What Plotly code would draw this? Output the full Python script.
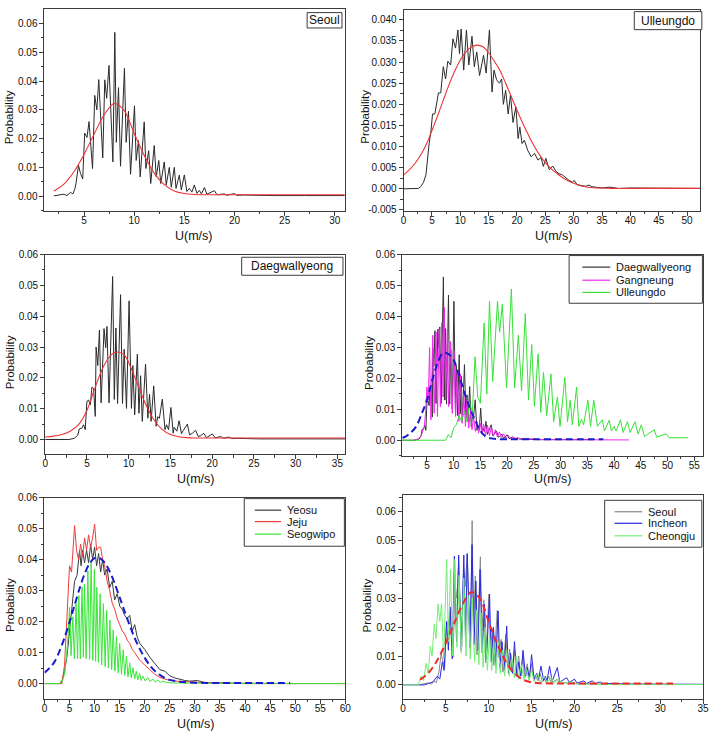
import plotly.graph_objects as go

W, H = 718, 748
FONT = "Liberation Sans, Arial, sans-serif"

# ---------------- data ----------------
# Seoul (panel 1 and panel 6)
seoul_x = [2.0, 2.5, 3.0, 3.3, 3.65, 3.9, 4.1, 4.2, 4.45, 4.65,
           4.87, 5.07, 5.3, 5.5, 5.85, 6.07, 6.28, 6.47, 6.87, 7.07,
           7.26, 7.49, 7.88, 8.07, 8.22, 8.44, 8.64, 9.03, 9.2, 9.43,
           9.64, 10.03, 10.2, 10.43, 10.6, 11.0, 11.17, 11.45, 11.65, 12.0,
           12.2, 12.45, 12.65, 13.0, 13.2, 13.5, 13.7, 14.0, 14.17, 14.5,
           14.7, 15.0, 15.25, 15.5, 15.75, 16.0, 16.25, 16.5, 16.7, 17.0,
           17.25, 18.0, 18.25, 19.0, 19.2, 20.0, 20.2, 21.0, 22.0, 24.0,
           27.0, 31.0]
seoul_y = [0.0001, 0.0003, 0.0007, 0.0002, 0.0013, 0.0008, 0.0027, 0.0044, 0.0107, 0.0079,
           0.0060, 0.0219, 0.0204, 0.0259, 0.0096, 0.0350, 0.0300, 0.0405, 0.0133, 0.0404,
           0.0340, 0.0454, 0.0119, 0.0569, 0.0187, 0.0377, 0.0104, 0.0444, 0.0187, 0.0295,
           0.0076, 0.0314, 0.0124, 0.0193, 0.0067, 0.0258, 0.0096, 0.0158, 0.0044, 0.0176,
           0.0067, 0.0124, 0.0044, 0.0119, 0.0039, 0.0100, 0.0031, 0.0100, 0.0027, 0.0073,
           0.0022, 0.0074, 0.0016, 0.0027, 0.0014, 0.0039, 0.0010, 0.0020, 0.0008, 0.0030,
           0.0007, 0.0019, 0.0005, 0.0008, 0.0003, 0.0009, 0.0003, 0.0004, 0.0003, 0.0002,
           0.0002, 0.0002]
seoul_fit_x = [2, 3, 4, 5, 6, 7, 8, 9, 10, 11, 12, 13, 14, 15, 16, 18, 20, 25, 31.5]
seoul_fit_y = [0.0018, 0.0042, 0.0085, 0.0145, 0.0215, 0.0282, 0.0322, 0.0298, 0.0218, 0.0142,
               0.0080, 0.0040, 0.0018, 0.0009, 0.0006, 0.0005, 0.0005, 0.0005, 0.0005]

# Ulleungdo (panel 2)
ull_x = [0, 1.0, 2.0, 2.6, 3.0, 3.5, 3.94, 4.23, 4.5, 4.8,
         5.1, 5.5, 5.86, 6.15, 6.55, 7.0, 7.4, 7.8, 8.3, 8.7,
         9.16, 9.57, 9.86, 10.15, 10.6, 11.08, 11.5, 12.06, 12.47, 12.9,
         13.4, 14.1, 14.56, 15.14, 15.6, 15.95, 16.4, 16.9, 17.3, 17.6,
         18.0, 18.45, 18.85, 19.3, 19.8, 20.2, 20.5, 20.9, 21.3, 21.9,
         22.5, 23.1, 23.7, 24.25, 24.65, 25.1, 25.7, 26.3, 26.9, 27.4,
         28.0, 28.6, 29.2, 29.8, 30.1, 30.6, 31.5, 32.1, 32.7, 33.2,
         33.8, 35.0, 36.4, 37.9, 40.0, 45.0, 52.3]
ull_y = [0, 0, 0, 0.0001, 0.0005, 0.0015, 0.0033, 0.0080, 0.0107, 0.0134,
         0.0177, 0.0177, 0.0204, 0.0227, 0.0227, 0.0289, 0.0260, 0.0302, 0.0293, 0.0355,
         0.0333, 0.0376, 0.0320, 0.0378, 0.0281, 0.0376, 0.0293, 0.0361, 0.0289, 0.0324,
         0.0268, 0.0316, 0.0274, 0.0376, 0.0229, 0.0281, 0.0258, 0.0250, 0.0260, 0.0200,
         0.0233, 0.0177, 0.0222, 0.0157, 0.0194, 0.0119, 0.0146, 0.0107, 0.0115, 0.0091,
         0.0076, 0.0084, 0.0068, 0.0074, 0.0053, 0.0072, 0.0045, 0.0054, 0.0041, 0.0036,
         0.0033, 0.0026, 0.0020, 0.0016, 0.0020, 0.0010, 0.0008, 0.0006, 0.0009, 0.0005,
         0.0004, 0.0002, 0.0004, 0.0001, 0.0002, 0.0001, 0.0001]
ull_fit_x = [0, 1, 2, 3, 4, 5, 6, 7, 8, 9, 10, 11, 12, 13, 14, 15, 16, 17, 18, 19,
             20, 21, 22, 23, 24, 25, 26, 27, 28, 29, 30, 31, 32, 33, 34, 35, 37, 40, 45, 52.3]
ull_fit_y = [0.0033, 0.0045, 0.0060, 0.0080, 0.0105, 0.0138, 0.0173, 0.0210, 0.0246, 0.0278,
             0.0305, 0.0324, 0.0336, 0.0340, 0.0336, 0.0322, 0.0302, 0.0280, 0.0250, 0.0218,
             0.0186, 0.0156, 0.0128, 0.0102, 0.0080, 0.0062, 0.0048, 0.0037, 0.0027, 0.0019,
             0.0013, 0.0008, 0.0005, 0.0003, 0.0002, 0.0002, 0.0001, 0.0001, 0.0001, 0.0001]

# Daegwallyeong (panels 3 and 4)
dae_x = [0, 2.84, 3.5, 3.9, 4.1, 4.4, 4.6, 4.8, 5.0, 5.2,
         5.4, 5.6, 5.8, 6.0, 6.1, 6.3, 6.5, 6.7, 7.05, 7.25,
         7.4, 7.65, 8.08, 8.28, 8.47, 8.67, 9.03, 9.26, 9.46, 9.74,
         10.05, 10.33, 10.5, 10.72, 11.04, 11.23, 11.43, 11.63, 12.02, 12.3,
         12.5, 12.69, 13.0, 13.29, 13.48, 13.68, 14.03, 14.35, 14.54, 14.78,
         15.06, 15.33, 15.45, 15.77, 16.04, 16.32, 16.55, 17.03, 17.3, 17.62,
         18.01, 18.33, 18.6, 19.0, 19.31, 20.02, 20.38, 21.0, 21.36, 22.0,
         22.35, 23.0, 24.1, 25.7, 36.0]
dae_y = [0, 0, 0.0004, 0.0014, 0.0035, 0.0037, 0.0048, 0.0032, 0.0124, 0.0128,
         0.0112, 0.0170, 0.0165, 0.0075, 0.0300, 0.0240, 0.0355, 0.0119, 0.0360, 0.0298,
         0.0367, 0.0119, 0.0529, 0.0130, 0.0362, 0.0117, 0.0470, 0.0117, 0.0293, 0.0101,
         0.0450, 0.0101, 0.0240, 0.0080, 0.0277, 0.0085, 0.0207, 0.0059, 0.0245, 0.0069,
         0.0147, 0.0059, 0.0174, 0.0043, 0.0074, 0.0069, 0.0131, 0.0032, 0.0048, 0.0032,
         0.0104, 0.0021, 0.0040, 0.0027, 0.0061, 0.0019, 0.0030, 0.0050, 0.0015, 0.0020,
         0.0030, 0.0010, 0.0012, 0.0020, 0.0006, 0.0018, 0.0005, 0.0010, 0.0004, 0.0008,
         0.0003, 0.0004, 0.0003, 0.0002, 0.0002]
dae_fit_x = [0, 1, 2, 3, 4, 5, 6, 7, 8, 8.7, 9.5, 10, 11, 12, 13, 14, 15, 16, 17, 18, 20, 25, 36]
dae_fit_y = [0.0008, 0.0011, 0.0016, 0.0027, 0.0048, 0.0094, 0.0170, 0.0238, 0.0277, 0.0284,
             0.0274, 0.0250, 0.0184, 0.0117, 0.0065, 0.0033, 0.0016, 0.0009, 0.0006, 0.0005,
             0.0005, 0.0005, 0.0005]

# Gangneung (panel 4)
gang_x = [2.35, 3.3, 3.9, 4.26, 4.5, 4.75, 5.0, 5.25, 5.5, 5.74,
          6.1, 6.35, 6.72, 6.97, 7.28, 7.52, 7.77, 8.02, 8.26, 8.5,
          8.82, 9.06, 9.43, 9.74, 10.05, 10.36, 10.67, 10.97, 11.28, 11.59,
          11.9, 12.2, 12.51, 12.82, 13.13, 13.44, 13.74, 14.05, 14.36, 14.67,
          14.98, 15.28, 15.59, 15.96, 16.33, 16.7, 17.07, 17.44, 17.8, 18.18,
          18.55, 18.92, 19.29, 19.78, 20.2, 20.7, 21.13, 21.75, 22.36, 23.3,
          24.2, 26.06, 42.8]
gang_y = [0, 0.0004, 0.0013, 0.0029, 0.0045, 0.0087, 0.0172, 0.0130, 0.0300, 0.0066,
          0.0340, 0.0087, 0.0350, 0.0077, 0.0360, 0.0109, 0.0380, 0.0140, 0.0430, 0.0130,
          0.0360, 0.0109, 0.0320, 0.0087, 0.0289, 0.0077, 0.0226, 0.0061, 0.0215, 0.0055,
          0.0151, 0.0045, 0.0130, 0.0039, 0.0098, 0.0034, 0.0077, 0.0029, 0.0061, 0.0023,
          0.0055, 0.0020, 0.0052, 0.0017, 0.0049, 0.0015, 0.0043, 0.0013, 0.0034, 0.0011,
          0.0027, 0.0009, 0.0021, 0.0006, 0.0016, 0.0005, 0.0011, 0.0004, 0.0007, 0.0003,
          0.0005, 0.0002, 0.0001]
gang_fit_x = [0.4, 1, 2, 3, 4, 5, 6, 7, 8, 9, 10, 11, 12, 13, 14, 15, 16, 17, 18, 20, 25, 30, 38]
gang_fit_y = [0.0008, 0.0012, 0.0025, 0.0045, 0.0085, 0.0130, 0.0195, 0.0250, 0.0283, 0.0280,
              0.0260, 0.0210, 0.0155, 0.0105, 0.0065, 0.0030, 0.0012, 0.0006, 0.0004, 0.0003,
              0.0003, 0.0003, 0.0003]

# Ulleungdo (panel 4, green)
ull2_x = [0.4, 8.5, 9.0, 9.5, 10.0, 10.5, 11.0, 11.5, 12.0, 12.5,
          13.0, 13.5, 14.0, 14.5, 15.0, 15.7, 16.2, 16.7, 17.3, 18.2,
          18.6, 19.1, 19.9, 20.8, 21.4, 22.1, 22.7, 23.4, 24.0, 24.6,
          25.1, 25.8, 26.3, 26.8, 27.4, 28.2, 28.7, 29.4, 29.9, 30.8,
          31.3, 31.8, 32.2, 33.0, 33.4, 33.9, 34.3, 35.1, 35.6, 36.2,
          36.9, 37.8, 38.2, 39.1, 39.5, 40.0, 40.4, 41.2, 41.7, 42.5,
          43.0, 43.9, 44.5, 45.1, 45.7, 47.5, 48.0, 49.7, 50.3, 53.8]
ull2_y = [0, 0, 0.0018, 0.0008, 0.0040, 0.0050, 0.0080, 0.0060, 0.0095, 0.0060,
          0.0120, 0.0090, 0.0270, 0.0140, 0.0120, 0.0380, 0.0150, 0.0450, 0.0190, 0.0450,
          0.0350, 0.0440, 0.0170, 0.0490, 0.0170, 0.0340, 0.0160, 0.0410, 0.0130, 0.0310,
          0.0110, 0.0280, 0.0090, 0.0220, 0.0080, 0.0215, 0.0060, 0.0140, 0.0045, 0.0204,
          0.0060, 0.0130, 0.0050, 0.0172, 0.0045, 0.0068, 0.0050, 0.0130, 0.0045, 0.0130,
          0.0045, 0.0066, 0.0030, 0.0065, 0.0030, 0.0045, 0.0030, 0.0066, 0.0025, 0.0060,
          0.0025, 0.0060, 0.0020, 0.0050, 0.0012, 0.0034, 0.0010, 0.0021, 0.0008, 0.0008]

# Yeosu / Jeju / Seogwipo (panel 5)
yeosu_x = [0, 3.0, 3.5, 4.0, 4.5, 5.0, 5.5, 6.0, 6.5, 7.0,
           7.3, 7.6, 8.0, 8.4, 8.8, 9.2, 9.6, 10.0, 10.4, 10.8,
           11.2, 11.6, 12.0, 12.5, 13.0, 13.5, 14.0, 14.5, 15.0, 15.5,
           16.0, 16.5, 17.0, 17.5, 18.0, 18.5, 19.0, 20.0, 21.0, 22.0,
           23.0, 24.0, 25.0, 26.0, 27.0, 28.0, 29.0, 30.0, 30.5, 32.0,
           35.0, 40.0, 50.0]
yeosu_y = [0, 0, 0.001, 0.004, 0.009, 0.017, 0.025, 0.033, 0.035, 0.043,
           0.038, 0.043, 0.039, 0.043, 0.039, 0.045, 0.040, 0.044, 0.038, 0.042,
           0.036, 0.040, 0.035, 0.037, 0.031, 0.033, 0.027, 0.029, 0.025, 0.024,
           0.022, 0.021, 0.022, 0.017, 0.019, 0.015, 0.013, 0.011, 0.0085, 0.0065,
           0.0045, 0.0040, 0.0025, 0.0018, 0.0013, 0.0010, 0.0008, 0.0008, 0.0010, 0.0003,
           0.0002, 0.0001, 0]
jeju_x = [0, 3.5, 4.0, 4.5, 5.0, 5.4, 6.0, 6.4, 6.8, 7.2,
          7.6, 8.0, 8.4, 8.8, 9.2, 9.6, 10.0, 10.4, 10.8, 11.2,
          11.6, 12.0, 12.5, 13.0, 13.5, 14.0, 14.5, 15.0, 15.5, 16.0,
          16.5, 17.0, 17.5, 18.0, 18.5, 19.0, 20.0, 21.0, 22.0, 23.0,
          24.0, 25.0, 27.0, 30.0, 35.0, 40.0, 60.0]
jeju_y = [0, 0, 0.006, 0.020, 0.038, 0.036, 0.051, 0.043, 0.040, 0.045,
          0.041, 0.047, 0.043, 0.048, 0.044, 0.047, 0.0515, 0.043, 0.044, 0.044,
          0.040, 0.038, 0.033, 0.030, 0.026, 0.024, 0.021, 0.019, 0.017, 0.016,
          0.014, 0.013, 0.011, 0.010, 0.0088, 0.0075, 0.006, 0.0045, 0.003, 0.002,
          0.0015, 0.001, 0.0007, 0.0004, 0.0001, 0, 0]
seog_x = [0, 3.0, 3.5, 4.0, 4.4, 4.7, 5.0, 5.3, 5.65, 5.95,
          6.3, 6.6, 6.85, 7.15, 7.5, 7.75, 8.0, 8.3, 8.65, 9.0,
          9.3, 9.65, 9.95, 10.2, 10.45, 10.75, 11.1, 11.4, 11.75, 12.1,
          12.4, 12.75, 13.05, 13.4, 13.7, 14.05, 14.35, 14.7, 15.0, 15.35,
          15.7, 16.0, 16.35, 16.65, 17.0, 17.3, 17.65, 18.0, 18.3, 18.6,
          18.95, 19.3, 19.6, 20.1, 20.6, 21.1, 21.6, 22.1, 22.6, 23.1,
          23.6, 24.5, 26.0, 30.0, 40.0, 60.0]
seog_y = [0, 0, 0.0005, 0.003, 0.009, 0.015, 0.0247, 0.009, 0.0215, 0.008,
          0.0258, 0.008, 0.0284, 0.008, 0.0311, 0.0085, 0.0321, 0.008, 0.0364, 0.0078,
          0.0396, 0.0075, 0.0369, 0.0072, 0.0311, 0.0068, 0.029, 0.006, 0.0258, 0.0055,
          0.0237, 0.005, 0.0205, 0.0045, 0.0173, 0.004, 0.0152, 0.0035, 0.013, 0.003,
          0.0109, 0.0026, 0.0088, 0.0022, 0.0067, 0.0018, 0.0051, 0.0015, 0.004, 0.0012,
          0.0033, 0.001, 0.0024, 0.0008, 0.0019, 0.0006, 0.0015, 0.0005, 0.0012, 0.0004,
          0.0008, 0.0003, 0.0002, 0.0001, 0, 0]
south_fit_x = [0, 1, 2, 3, 4, 5, 6, 7, 8, 9, 10, 11, 12, 13, 14, 15, 16, 17, 18, 19,
               20, 21, 22, 23, 24, 25, 27, 30, 35, 40, 49]
south_fit_y = [0.0035, 0.0050, 0.0070, 0.0105, 0.0148, 0.0198, 0.0253, 0.0307, 0.0354, 0.0388,
               0.0405, 0.0405, 0.0390, 0.0362, 0.0323, 0.0278, 0.0232, 0.0188, 0.0147, 0.0112,
               0.0083, 0.0059, 0.0041, 0.0028, 0.0018, 0.0012, 0.0006, 0.0003, 0.0002, 0.0002,
               0.0002]

# Incheon / Cheongju (panel 6)
inch_x = [0, 2.5, 3.0, 3.5, 4.0, 4.3, 4.6, 4.8, 5.1, 5.3,
          5.5, 5.75, 6.0, 6.25, 6.5, 6.8, 7.1, 7.3, 7.5, 7.8,
          8.06, 8.3, 8.5, 8.75, 9.0, 9.25, 9.5, 9.75, 10.1, 10.3,
          10.55, 10.8, 11.1, 11.3, 11.55, 11.8, 12.1, 12.3, 12.55, 12.8,
          13.0, 13.3, 13.5, 13.75, 14.0, 14.3, 14.5, 14.75, 15.0, 15.3,
          15.6, 15.8, 16.1, 16.4, 16.6, 16.8, 17.1, 17.4, 18.0, 18.3,
          19.1, 19.4, 20.0, 20.3, 21.1, 21.4, 22.1, 22.4, 23.0, 23.3,
          24.0, 26.0, 35.0]
inch_y = [0, 0, 0.0005, 0.001, 0.003, 0.002, 0.008, 0.005, 0.022, 0.012,
          0.027, 0.009, 0.0446, 0.015, 0.045, 0.012, 0.045, 0.016, 0.0455, 0.013,
          0.0486, 0.014, 0.036, 0.012, 0.040, 0.011, 0.028, 0.009, 0.0315, 0.008,
          0.020, 0.007, 0.0256, 0.006, 0.015, 0.005, 0.0204, 0.004, 0.011, 0.004,
          0.015, 0.003, 0.008, 0.003, 0.012, 0.003, 0.006, 0.002, 0.0105, 0.002,
          0.004, 0.002, 0.0065, 0.0015, 0.003, 0.0015, 0.0065, 0.0012, 0.006, 0.001,
          0.0025, 0.0008, 0.002, 0.0006, 0.0014, 0.0005, 0.0014, 0.0004, 0.001, 0.0004,
          0.0005, 0.0003, 0.0002]
cheong_x = [0, 1.8, 2.1, 2.4, 2.7, 2.95, 3.2, 3.4, 3.65, 3.85,
            4.1, 4.3, 4.5, 4.75, 5.1, 5.3, 5.55, 5.8, 6.05, 6.3,
            6.55, 6.8, 7.1, 7.35, 7.6, 7.85, 8.1, 8.35, 8.6, 8.85,
            9.1, 9.35, 9.6, 9.85, 10.1, 10.35, 10.6, 10.85, 11.1, 11.35,
            11.6, 11.85, 12.1, 12.4, 12.7, 13.0, 13.2, 13.5, 13.8, 14.1,
            14.4, 14.7, 15.0, 15.3, 15.7, 16.0, 16.5, 16.8, 17.3, 17.6,
            18.2, 18.5, 19.5, 20.0, 22.0, 25.0, 35.0]
cheong_y = [0, 0, 0.003, 0.0015, 0.0075, 0.004, 0.0133, 0.010, 0.021, 0.016,
            0.028, 0.022, 0.028, 0.009, 0.0435, 0.015, 0.040, 0.010, 0.0435, 0.013,
            0.038, 0.011, 0.037, 0.010, 0.031, 0.009, 0.030, 0.008, 0.026, 0.007,
            0.025, 0.006, 0.020, 0.005, 0.018, 0.005, 0.015, 0.004, 0.015, 0.004,
            0.012, 0.003, 0.012, 0.003, 0.009, 0.0025, 0.010, 0.002, 0.007, 0.0018,
            0.0055, 0.0015, 0.005, 0.0012, 0.004, 0.001, 0.003, 0.0008, 0.0025, 0.0006,
            0.002, 0.0005, 0.001, 0.0004, 0.0002, 0.0001, 0.0001]

# tick labels
x_ticks = {
    1: [5, 10, 15, 20, 25, 30],
    2: [0, 5, 10, 15, 20, 25, 30, 35, 40, 45, 50],
    3: [0, 5, 10, 15, 20, 25, 30, 35],
    4: [5, 10, 15, 20, 25, 30, 35, 40, 45, 50, 55],
    5: [0, 5, 10, 15, 20, 25, 30, 35, 40, 45, 50, 55, 60],
    6: [0, 5, 10, 15, 20, 25, 30, 35],
}
y_ticks_std = [0.0, 0.01, 0.02, 0.03, 0.04, 0.05, 0.06]
y_labels_std = ["0.00", "0.01", "0.02", "0.03", "0.04", "0.05", "0.06"]
y_ticks_ull = [-0.005, 0.0, 0.005, 0.010, 0.015, 0.020, 0.025, 0.030, 0.035, 0.040]
y_labels_ull = ["-0.005", "0.000", "0.005", "0.010", "0.015", "0.020", "0.025", "0.030", "0.035", "0.040"]

box_labels = {1: "Seoul", 2: "Ulleungdo", 3: "Daegwallyeong"}
legend4 = ["Daegwallyeong", "Gangneung", "Ulleungdo"]
legend5 = ["Yeosu", "Jeju", "Seogwipo"]
legend6 = ["Seoul", "Incheon", "Cheongju"]

# ---------------- layout helpers ----------------
def fx(p):
    return p / W

def fy(p):
    return 1 - p / H

frames = {  # left, right, top, bottom in pixels
    1: (42.0, 346.0, 3.3, 208.0),
    2: (405.7, 705.7, 4.0, 208.0),
    3: (42.7, 346.7, 252.3, 455.0),
    4: (404.3, 709.0, 252.7, 456.7),
    5: (42.0, 346.7, 499.0, 703.3),
    6: (405.0, 709.0, 496.7, 703.3),
}
xranges = {1: [1.06, 30.98], 2: [0, 52.26], 3: [0, 35.95], 4: [0.38, 56.66], 5: [0, 60], 6: [0, 35]}
yranges = {1: [-0.00513, 0.06493], 2: [-0.00523, 0.04233], 3: [-0.0048, 0.06],
           4: [-0.0051, 0.06], 5: [-0.00496, 0.06], 6: [-0.00488, 0.06567]}

AX = "#3c3c3c"
fig = go.Figure()


def add(panel, x, y, color, width=1.0, dash=None, spline=False):
    sfx = "" if panel == 1 else str(panel)
    line = dict(color=color, width=width)
    if dash:
        line["dash"] = dash
    if spline:
        line["shape"] = "spline"
        line["smoothing"] = 0.9
    fig.add_trace(go.Scatter(x=x, y=y, mode="lines", line=line, showlegend=False,
                             xaxis="x" + sfx, yaxis="y" + sfx, hoverinfo="skip"))


BLACK = "#2a2a2a"
RED = "#f03232"
add(1, seoul_x, seoul_y, BLACK)
add(1, seoul_fit_x, seoul_fit_y, RED, 1.1, spline=True)
add(2, ull_x, ull_y, BLACK)
add(2, ull_fit_x, ull_fit_y, RED, 1.1, spline=True)
add(3, dae_x, dae_y, BLACK)
add(3, dae_fit_x, dae_fit_y, RED, 1.1, spline=True)

C4 = ["#333333", "#f028f0", "#38e038"]
add(4, dae_x, dae_y, C4[0])
add(4, gang_x, gang_y, C4[1])
add(4, ull2_x, ull2_y, C4[2])
add(4, gang_fit_x, gang_fit_y, "#1a1acc", 2.0, dash="7px,4px", spline=True)

C5 = ["#3a3a3a", "#f03c3c", "#3ae63a"]
add(5, yeosu_x, yeosu_y, C5[0])
add(5, jeju_x, jeju_y, C5[1])
add(5, seog_x, seog_y, C5[2])
add(5, south_fit_x, south_fit_y, "#1a1acc", 2.0, dash="7px,4px", spline=True)

C6 = ["#8a8a8a", "#2a2ae0", "#74ee74"]
add(6, seoul_x, seoul_y, C6[0])
add(6, inch_x, inch_y, C6[1])
add(6, cheong_x, cheong_y, C6[2])
add(6, seoul_fit_x, seoul_fit_y, "#ee2a2a", 2.0, dash="7px,4px", spline=True)

layout = dict(width=W, height=H, margin=dict(l=0, r=0, t=0, b=0), autosize=False,
              paper_bgcolor="white", plot_bgcolor="white",
              font=dict(family=FONT, color="#111111"), showlegend=False)

for p in range(1, 7):
    l, r, t, b = frames[p]
    sfx = "" if p == 1 else str(p)
    common = dict(showline=True, linecolor=AX, linewidth=1, mirror=True, ticks="outside",
                  ticklen=4, tickwidth=1, tickcolor=AX, showgrid=False, zeroline=False,
                  tickfont=dict(size=10, color="#111111", family=FONT), tickmode="array")
    xa = dict(common, domain=[fx(l), fx(r)], range=xranges[p], anchor="y" + sfx,
              tickvals=x_ticks[p], ticktext=[str(v) for v in x_ticks[p]],
              ticklabelstandoff=-4,
              minor=dict(ticks="outside", ticklen=2.5, tickcolor=AX, tickmode="linear",
                         tick0=0, dtick=2.5))
    if p == 2:
        yv, yt, ym = y_ticks_ull, y_labels_ull, 0.0025
    else:
        yv, yt, ym = y_ticks_std, y_labels_std, 0.005
    ya = dict(common, domain=[fy(b), fy(t)], range=yranges[p], anchor="x" + sfx,
              tickvals=yv, ticktext=yt,
              minor=dict(ticks="outside", ticklen=2.5, tickcolor=AX, tickmode="linear",
                         tick0=0, dtick=ym))
    layout["xaxis" + sfx] = xa
    layout["yaxis" + sfx] = ya

fig.update_layout(**layout)

annotations = []
shapes = []

# axis titles
xt_pos = {1: (193.7, 233), 2: (558, 233), 3: (195, 480), 4: (556.7, 480), 5: (195, 729), 6: (558, 729)}
yt_pos = {1: (6, 113), 2: (367, 112), 3: (7, 361.7), 4: (370, 362), 5: (7, 608), 6: (369, 608)}
for p in range(1, 7):
    x0, y0 = xt_pos[p]
    annotations.append(dict(x=fx(x0), y=fy(y0), xref="paper", yref="paper", text="U(m/s)",
                            showarrow=False, xanchor="center", yanchor="middle",
                            font=dict(size=12.5, color="#111111", family=FONT)))
    x1, y1 = yt_pos[p]
    annotations.append(dict(x=fx(x1), y=fy(y1), xref="paper", yref="paper", text="Probability",
                            showarrow=False, xanchor="center", yanchor="middle", textangle=-90,
                            font=dict(size=11.5, color="#111111", family=FONT)))

# single-label boxes
boxes = {1: (308.0, 343.3, 6.7, 22.3), 2: (639.3, 707.7, 5.7, 24.0), 3: (241.7, 344.3, 255.0, 273.3)}
for p, (l, r, t, b) in boxes.items():
    shapes.append(dict(type="rect", xref="paper", yref="paper", x0=fx(l), x1=fx(r), y0=fy(b), y1=fy(t),
                       line=dict(color=AX, width=1), fillcolor="white", layer="above"))
    annotations.append(dict(x=fx((l + r) / 2), y=fy((t + b) / 2), xref="paper", yref="paper",
                            text=box_labels[p], showarrow=False, xanchor="center", yanchor="middle",
                            font=dict(size=12, color="#111111", family=FONT)))

# multi-entry legends
legends = [
    ((573.3, 708.3, 253.3, 301.7), [265.0, 278.3, 290.7], (586.7, 615.0), 618.3, legend4, C4),
    ((244.3, 345.7, 500.0, 548.3), [511.7, 523.3, 536.0], (255.0, 281.7), 286.0, legend5, C5),
    ((609.3, 707.7, 501.7, 549.3), [513.3, 525.0, 537.7], (619.3, 647.3), 650.7, legend6, C6),
]
for (l, r, t, b), rows, (lx0, lx1), tx, labels, colors in legends:
    shapes.append(dict(type="rect", xref="paper", yref="paper", x0=fx(l), x1=fx(r), y0=fy(b), y1=fy(t),
                       line=dict(color=AX, width=1), fillcolor="white", layer="above"))
    for ry, lab, col in zip(rows, labels, colors):
        shapes.append(dict(type="line", xref="paper", yref="paper", x0=fx(lx0), x1=fx(lx1),
                           y0=fy(ry), y1=fy(ry), line=dict(color=col, width=1.2), layer="above"))
        annotations.append(dict(x=fx(tx), y=fy(ry), xref="paper", yref="paper", text=lab,
                                showarrow=False, xanchor="left", yanchor="middle",
                                font=dict(size=11, color="#111111", family=FONT)))

fig.update_layout(annotations=annotations, shapes=shapes)

fig.write_html("out.html")
